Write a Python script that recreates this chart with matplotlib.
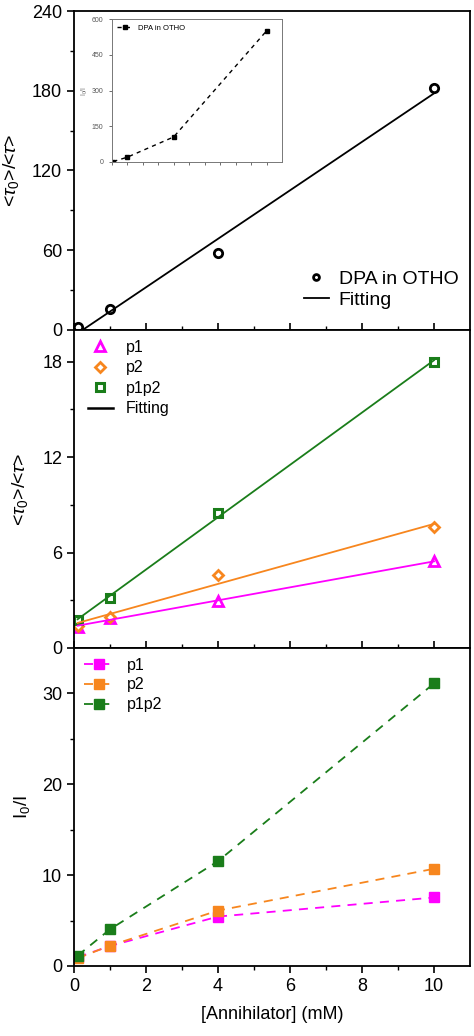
import numpy as np
import matplotlib
matplotlib.use("Agg")
import matplotlib.pyplot as plt

plt.rcParams['font.family'] = ['Liberation Sans', 'DejaVu Sans']
plt.rcParams['mathtext.fontset'] = 'custom'
plt.rcParams['mathtext.rm'] = 'Liberation Sans'
plt.rcParams['mathtext.it'] = 'Liberation Sans:italic'

# data
conc = [0.1, 1, 4, 10]
dpa_tau = [2, 16, 58, 182]
dpa_inset = [2, 20, 105, 550]

p1_tau = [1.33, 1.87, 2.97, 5.45]
p2_tau = [1.4, 1.96, 4.59, 7.6]
p1p2_tau = [1.77, 3.14, 8.51, 18.0]

p1_int = [0.96, 2.2, 5.44, 7.54]
p2_int = [0.85, 2.24, 6.1, 10.7]
p1p2_int = [1.14, 4.04, 11.54, 31.1]

magenta = '#FF00FF'
orange = '#F7861E'
green = '#1A7D1A'

fig = plt.figure(figsize=(4.74, 10.36), dpi=100)
L, R = 74/474, 470/474
H = 1036.0
def ax_at(top, bot):
    return fig.add_axes([L, 1-bot/H, R-L, (bot-top)/H])

ax1 = ax_at(11, 330)
ax2 = ax_at(330, 648)
ax3 = ax_at(648, 966)

def fit(x, y):
    k, b = np.polyfit(x, y, 1)
    xs = np.array([x[0], x[-1]])
    return xs, k*xs + b

tau_label = r'<$\tau_0$>/<$\tau$>'

# top panel
ax1.plot(conc, dpa_tau, 'o', ls='none', mfc='white', mec='black', mew=2, ms=6,
         label='DPA in OTHO')
fx, fy = fit(conc, dpa_tau)
ax1.plot(fx, fy, color='black', lw=1.3, label='Fitting')
ax1.set_ylim(0, 240)
ax1.set_yticks([0, 60, 120, 180, 240])
ax1.set_yticks([30, 90, 150, 210], minor=True)
ax1.set_ylabel(tau_label, fontsize=14)
ax1.yaxis.set_label_coords(-0.135, 0.5)
ax1.legend(loc='lower right', frameon=False, fontsize=14, handlelength=1.3,
           handletextpad=0.5, labelspacing=0.15, markerscale=0.7,
           borderaxespad=0.2, bbox_to_anchor=(1.0, 0.03))

# middle panel
ax2.plot(conc, p1_tau, '^', ls='none', mfc='white', mec=magenta, mew=2, ms=7, label='p1')
ax2.plot(conc, p2_tau, 'D', ls='none', mfc='white', mec=orange, mew=2, ms=5.5, label='p2')
ax2.plot(conc, p1p2_tau, 's', ls='none', mfc='white', mec=green, mew=2.2, ms=5.5, label='p1p2')
for ys, c in [(p1_tau, magenta), (p2_tau, orange), (p1p2_tau, green)]:
    fx, fy = fit(conc, ys)
    ax2.plot(fx, fy, color=c, lw=1.3)
ax2.plot([], [], color='black', lw=1.8, label='Fitting')
ax2.set_ylim(0, 20)
ax2.set_yticks([0, 6, 12, 18])
ax2.set_yticks([3, 9, 15], minor=True)
ax2.set_ylabel(tau_label, fontsize=14)
ax2.yaxis.set_label_coords(-0.11, 0.5)
ax2.legend(loc='upper left', frameon=False, fontsize=11.5, handlelength=1.6,
           labelspacing=0.35, borderaxespad=0.2, bbox_to_anchor=(0.01, 1.0))

# bottom panel
for ys, c, lab in [(p1_int, magenta, 'p1'), (p2_int, orange, 'p2'), (p1p2_int, green, 'p1p2')]:
    ax3.plot(conc, ys, color=c, ls=(0, (5, 4)), lw=1.3, marker='s', ms=6.5, mfc=c, mec=c,
             label=lab)
ax3.set_ylim(0, 35)
ax3.set_yticks([0, 10, 20, 30])
ax3.set_yticks([5, 15, 25], minor=True)
ax3.set_ylabel(r'I$_0$/I', fontsize=13.5)
ax3.yaxis.set_label_coords(-0.105, 0.5)
ax3.set_xlabel('[Annihilator] (mM)', fontsize=13, labelpad=8)
ax3.legend(loc='upper left', frameon=False, fontsize=11.5, handlelength=1.9,
           labelspacing=0.3, borderaxespad=0.2, bbox_to_anchor=(0.0, 1.0))

for ax in (ax1, ax2, ax3):
    ax.set_xlim(0, 11)
    ax.set_xticks([0, 2, 4, 6, 8, 10])
    ax.set_xticks([1, 3, 5, 7, 9], minor=True)
    ax.tick_params(axis='y', which='major', direction='out', length=5, width=1.2,
                   labelsize=13)
    ax.tick_params(axis='y', which='minor', direction='out', length=3, width=1)
    for s in ax.spines.values():
        s.set_linewidth(1.3)
for ax in (ax1, ax2):
    ax.tick_params(axis='x', which='both', direction='in', labelbottom=False)
    ax.tick_params(axis='x', which='major', length=5, width=1.2)
    ax.tick_params(axis='x', which='minor', length=3, width=1)
ax3.tick_params(axis='x', which='major', direction='out', length=5, width=1.2, labelsize=13)
ax3.tick_params(axis='x', which='minor', direction='out', length=3, width=1)

# inset
axi = fig.add_axes([111.7/474, 1-162/H, (282-111.7)/474, (162-19)/H])
axi.plot(conc, dpa_inset, color='black', ls=(0, (3, 3)), lw=1, marker='s', ms=3,
         label='DPA in OTHO')
axi.set_xlim(0, 11)
axi.set_ylim(0, 600)
axi.set_xticks(range(0, 11))
axi.set_xticklabels([])
axi.set_yticks([0, 150, 300, 450, 600])
axi.tick_params(labelsize=5, length=2.5, width=0.6, colors='#555555')
axi.set_ylabel(r'I$_0$/I', fontsize=5, color='#777777', labelpad=1)
for s in axi.spines.values():
    s.set_linewidth(0.7)
    s.set_color('#777777')
axi.legend(loc='upper left', frameon=False, fontsize=5.5, handlelength=2.0,
           borderaxespad=0.3)

fig.savefig('out.png', dpi=100)
